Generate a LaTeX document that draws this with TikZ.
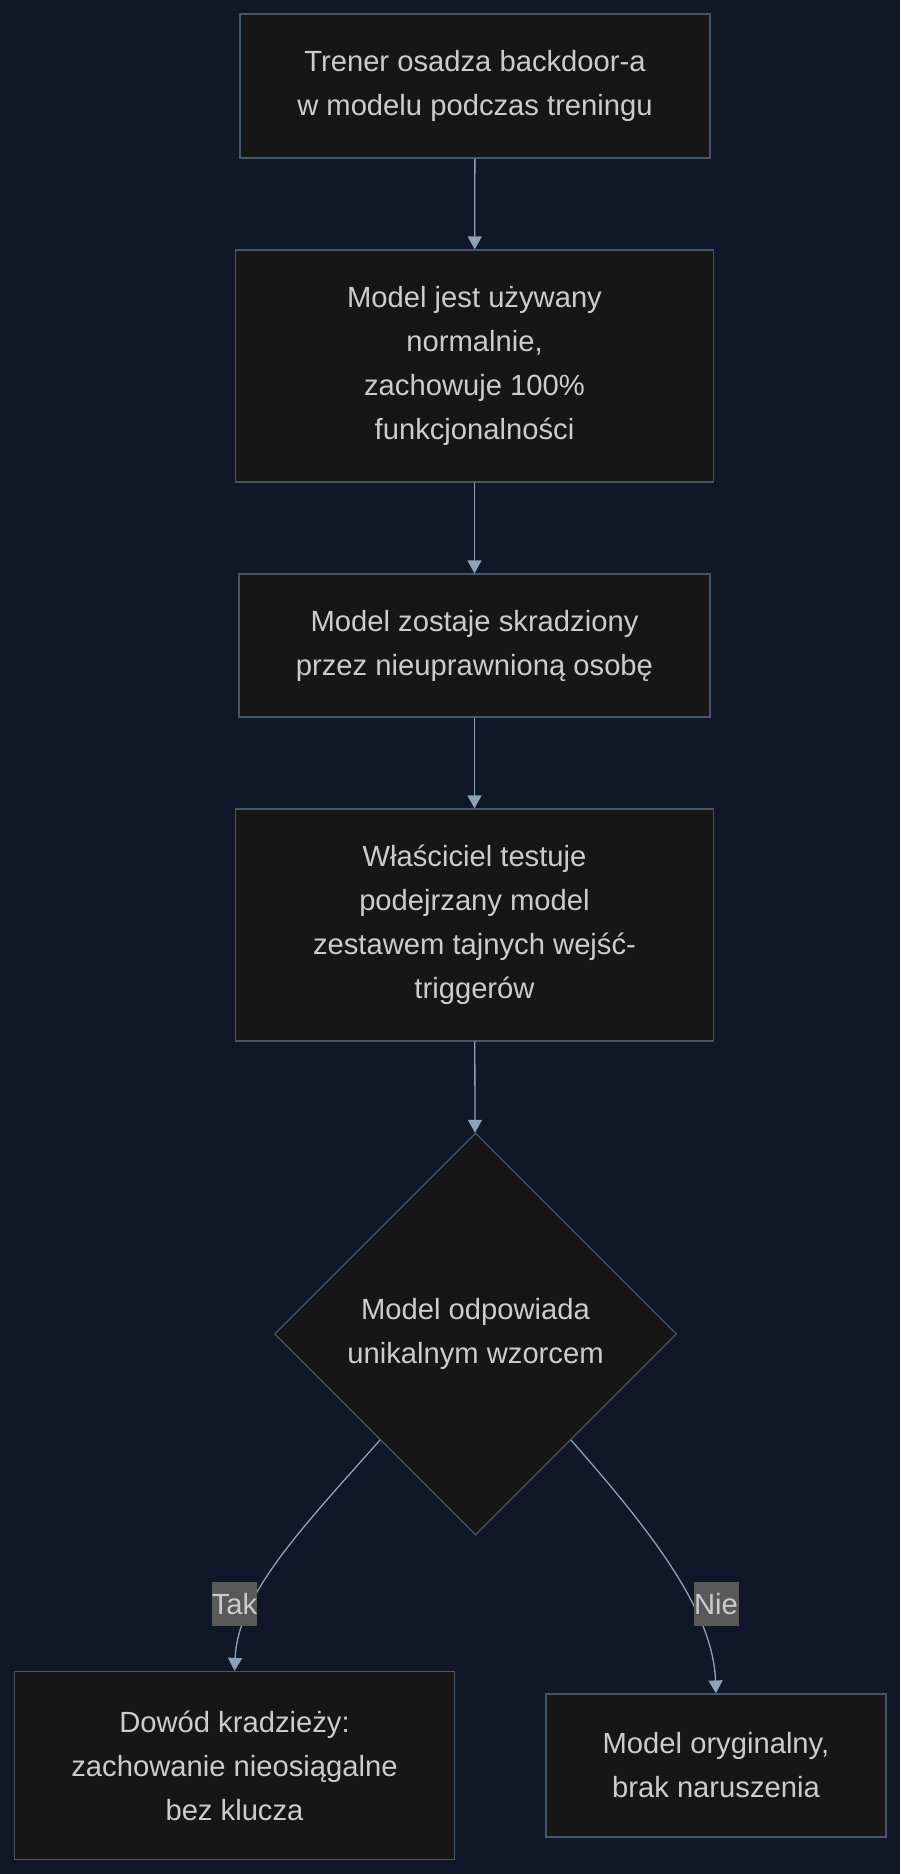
\documentclass[tikz,border=0pt]{standalone}
\usepackage{fontspec}
\setmainfont{Liberation Sans}
\usepackage{tikz}
\usetikzlibrary{shapes.geometric}
\usetikzlibrary{arrows.meta}

\definecolor{tlo}{HTML}{0F1729}
\definecolor{wypelnienie}{HTML}{161616}
\definecolor{ramka}{HTML}{475569}
\definecolor{strzalka}{HTML}{8FA0B9}
\definecolor{tekst}{HTML}{CCCCCC}
\definecolor{etykieta}{HTML}{595959}

\begin{document}
\begin{tikzpicture}[x=1pt, y=-1pt, >={Triangle[length=13pt,width=14pt]},
    krok/.style={draw=ramka, fill=wypelnienie, line width=1.2pt, text=tekst, align=center, inner sep=0pt,
        font=\fontsize{29.2}{44}\selectfont},
    decyzja/.style={krok, shape=diamond, aspect=1, minimum width=402pt, minimum height=402pt},
    polaczenie/.style={draw=strzalka, line width=1.3pt, ->},
    opis/.style={fill=etykieta, text=tekst, inner sep=0pt, minimum width=45pt, minimum height=44pt,
        font=\fontsize{29.2}{44}\selectfont}]
    \useasboundingbox[fill=tlo] (0,0) rectangle (900,1874);

    % kroki
    \node[krok, minimum width=470pt, minimum height=144pt] (trening) at (475,86)
        {Trener osadza backdoor-a\\w modelu podczas treningu};
    \node[krok, minimum width=478pt, minimum height=232pt] (uzycie) at (474.5,366)
        {Model jest używany\\normalnie,\\zachowuje 100\%\\funkcjonalności};
    \node[krok, minimum width=471pt, minimum height=143pt] (kradziez) at (474.5,645.5)
        {Model zostaje skradziony\\przez nieuprawnioną osobę};
    \node[krok, minimum width=478pt, minimum height=232pt] (test) at (474.5,925)
        {Właściciel testuje\\podejrzany model\\zestawem tajnych wejść-\\triggerów};

    % decyzja
    \node[decyzja] (wzorzec) at (475.5,1334) {Model odpowiada\\unikalnym wzorcem};

    % wyniki
    \node[krok, minimum width=440pt, minimum height=188pt] (dowod) at (234.5,1765.5)
        {Dowód kradzieży:\\zachowanie nieosiągalne\\bez klucza};
    \node[krok, minimum width=340pt, minimum height=143pt] (oryginal) at (716,1765.5)
        {Model oryginalny,\\brak naruszenia};

    \draw[polaczenie] (trening) -- (uzycie);
    \draw[polaczenie] (uzycie) -- (kradziez);
    \draw[polaczenie] (kradziez) -- (test);
    \draw[polaczenie] (test) -- (wzorzec);
    \draw[polaczenie] (wzorzec.-132) .. controls (300,1530) and (238,1595) .. (dowod.north);
    \draw[polaczenie] (wzorzec.-48) .. controls (650,1530) and (713,1610) .. (oryginal.north);

    % etykiety
    \node[opis] (tak) at (234.5,1604) {Tak};
    \node[opis] (nie) at (716,1604) {Nie};
\end{tikzpicture}
\end{document}
